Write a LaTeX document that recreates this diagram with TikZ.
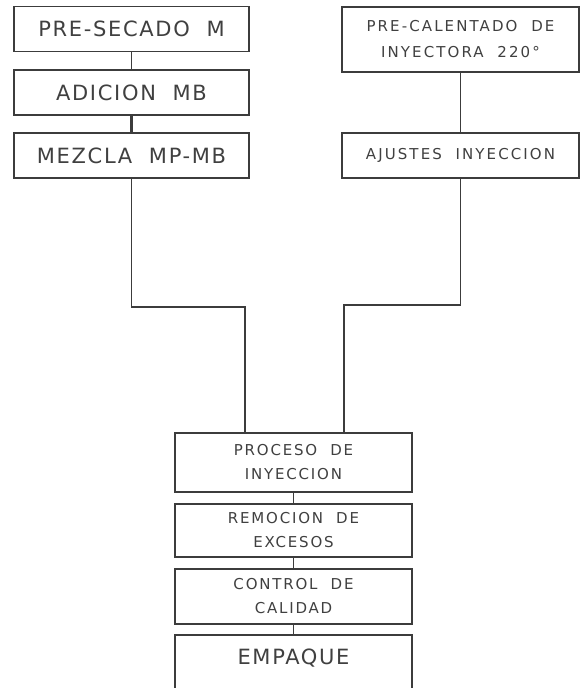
\documentclass[tikz,border=0pt]{standalone}
\usepackage{fontspec}
\setmainfont{DejaVu Sans}
\usepackage{tikz}
\usetikzlibrary{calc}
\definecolor{linegray}{RGB}{60,60,60}
\definecolor{textgray}{RGB}{64,64,64}
\tikzset{
  stepbox/.style={draw=linegray,line width=1.3pt,fill=white,rectangle,inner sep=0pt,
    align=center,text=textgray,minimum width=235pt,minimum height=45pt},
  bigtext/.style={font=\fontsize{21}{25}\selectfont\addfontfeature{LetterSpace=8}},
  smalltext/.style={font=\fontsize{15}{26}\selectfont\addfontfeature{LetterSpace=14}},
  midtext/.style={font=\fontsize{15}{24}\selectfont\addfontfeature{LetterSpace=12}},
  link/.style={draw=linegray,line width=1.3pt}
}

\begin{document}
\begin{tikzpicture}[x=1pt,y=-1pt]
  \clip (0,0) rectangle (587,688);

  % left column
  \node [stepbox,bigtext] (presecado) at (131.5,28.8) {PRE-SECADO\ \ M};
  \node [stepbox,bigtext] (adicion)   at (131.5,92.5) {ADICION\ \ MB};
  \node [stepbox,bigtext] (mezcla)    at (131.5,155.5) {MEZCLA\ \ MP-MB};

  % right column
  \node [stepbox,smalltext,minimum width=237pt,minimum height=65pt] (precal) at (460.5,39.5)
        {PRE-CALENTADO\ \ DE\\INYECTORA\ \ 220°};
  \node [stepbox,smalltext,minimum width=237pt] (ajustes) at (460.5,155.5) {AJUSTES\ \ INYECCION};

  % bottom chain
  \node [stepbox,midtext,minimum width=237pt,minimum height=59pt] (proceso)  at (293.5,462.5) {PROCESO\ \ DE\\INYECCION};
  \node [stepbox,midtext,minimum width=237pt,minimum height=53pt] (remocion) at (293.5,530.5) {REMOCION\ \ DE\\EXCESOS};
  \node [stepbox,midtext,minimum width=237pt,minimum height=55pt] (control)  at (293.5,596.5) {CONTROL\ \ DE\\CALIDAD};
  \node [stepbox,minimum width=237pt,minimum height=70pt] (empaque) at (293.5,670) {};
  \node [text=textgray,bigtext] (empaquetxt) at (293.5,658) {EMPAQUE};

  \path [link] (presecado) -- (adicion);
  \path [link,line width=2.2pt] (adicion) -- (mezcla);
  \path [link] (precal) -- (ajustes);
  \path [link] (mezcla.south) |- (188,307) -| ([xshift=-48.5pt]proceso.north);
  \path [link] (ajustes.south) |- (400,305) -| ([xshift=50.5pt]proceso.north);
  \path [link] (proceso) -- (remocion);
  \path [link] (remocion) -- (control);
  \path [link] (control) -- (empaque);
\end{tikzpicture}
\end{document}
